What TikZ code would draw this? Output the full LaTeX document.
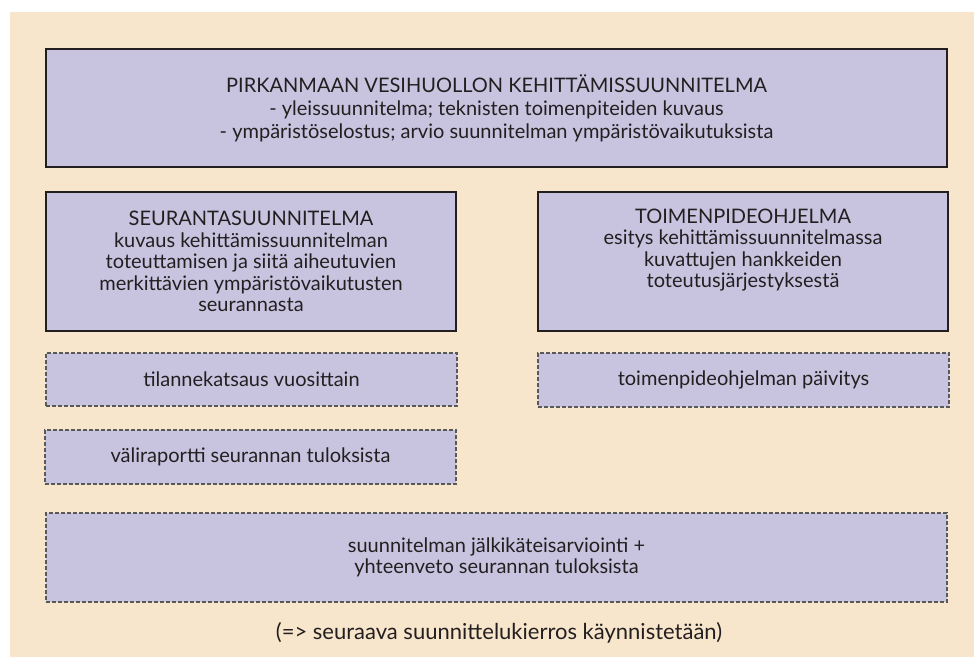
\documentclass[tikz,border=0pt]{standalone}
\usepackage{fontspec}
\setmainfont{Lato}
\usepackage{tikz}

\definecolor{paper}{HTML}{F8E6CC}
\definecolor{lilac}{HTML}{C8C4E0}
\definecolor{ink}{HTML}{231F20}

\begin{document}
\begin{tikzpicture}[x=1pt,y=-1pt]
		\tikzset{planbox/.style={draw=ink,line width=1.5pt,fill=lilac,rectangle,inner sep=0pt,
				align=center,text=ink,font=\fontsize{20}{21.5}\selectfont},
			dashbox/.style={planbox,draw=black!65,line width=1.2pt,dash pattern=on 4pt off 2pt}};
		\useasboundingbox (0,0) rectangle (974,657);
		\fill[paper] (10,12) rectangle (974,657);
		\node[planbox,minimum width=901pt,minimum height=118pt,font=\fontsize{20}{23}\selectfont] (plan) at (496.5,108)
			{PIRKANMAAN VESIHUOLLON KEHITTÄMISSUUNNITELMA\\- yleissuunnitelma; teknisten toimenpiteiden kuvaus\\- ympäristöselostus; arvio suunnitelman ympäristövaikutuksista};
		\node[planbox,minimum width=410pt,minimum height=139pt] (seuranta) at (251,261.5)
			{SEURANTASUUNNITELMA\\kuvaus kehittämissuunnitelman\\toteuttamisen ja siitä aiheutuvien\\merkittävien ympäristövaikutusten\\seurannasta};
		\node[planbox,minimum width=410pt,minimum height=139pt,text depth=27pt] (toimenpide) at (743,261.5)
			{TOIMENPIDEOHJELMA\\esitys kehittämissuunnitelmassa\\kuvattujen hankkeiden\\toteutusjärjestyksestä};
		\node[dashbox,minimum width=411pt,minimum height=53pt] (tilanne) at (251.5,379.5) {tilannekatsaus vuosittain};
		\node[dashbox,minimum width=411pt,minimum height=54pt] (paivitys) at (743.5,380) {toimenpideohjelman päivitys};
		\node[dashbox,minimum width=411pt,minimum height=54pt] (vali) at (250.5,457) {väliraportti seurannan tuloksista};
		\node[dashbox,minimum width=901pt,minimum height=89pt] (jalki) at (496.5,557.5)
			{suunnitelman jälkikäteisarviointi +\\yhteenveto seurannan tuloksista};
		\node[text=ink,font=\fontsize{22}{22}\selectfont] (seuraava) at (499,633) {(=> seuraava suunnittelukierros käynnistetään)};
	\end{tikzpicture}
\end{document}
